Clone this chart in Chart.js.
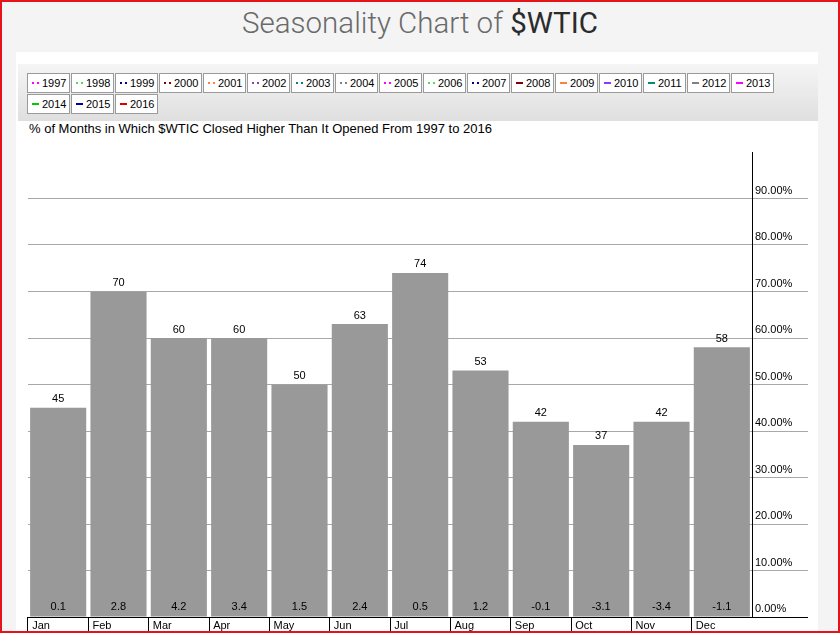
<!DOCTYPE html>
<html>
<head>
<meta charset="utf-8">
<title>Seasonality Chart of $WTIC</title>
<script src="https://cdn.jsdelivr.net/npm/chart.js@4.4.0/dist/chart.umd.min.js"></script>
<style>
    html, body { margin: 0; padding: 0; }
    body { width: 840px; height: 633px; overflow: hidden; font-family: Arial, "Liberation Sans", sans-serif; background: #f4f4f4; }
    #page { position: relative; width: 840px; height: 633px; overflow: hidden; background: #f4f4f4; }
    #header { position: absolute; left: 0; top: 0; width: 840px; height: 52px; background: #f4f4f4;
              text-align: center; font-family: Roboto, sans-serif; font-weight: 300; font-size: 29.5px;
              line-height: 46px; color: #6a6a6a; }
    #header b { font-weight: 400; color: #2b2b2b; }
    #panel { position: absolute; left: 16px; top: 52px; width: 802px; height: 581px; background: #fff; }
    #legendBar { position: absolute; left: 18px; top: 64px; width: 800px; height: 57px;
                 background: linear-gradient(#f5f5f5, #dfdfdf); }
    #legend { position: absolute; left: 27px; top: 73px; width: 760px; }
    .item { float: left; box-sizing: border-box; width: 43px; height: 20px; margin: 0 1px 1px 0;
            border: 1px solid #9a9a9a; background: #fff; font-size: 11px; line-height: 18px; color: #000;
            padding-left: 4px; white-space: nowrap; }
    .mark { display: inline-block; width: 7px; height: 2px; vertical-align: middle; margin: -2px 3px 0 0; }
    #subtitle { position: absolute; left: 29px; top: 121px; font-size: 13px; line-height: 16px; color: #000; }
    #chartCanvas { position: absolute; left: 0; top: 140px; }
    #frame { position: absolute; left: 0; top: 0; width: 840px; height: 633px; box-sizing: border-box;
             border: 2px solid #e3151b; pointer-events: none; }
</style>
</head>
<body>
<div id="page">
    <div id="header">Seasonality Chart of <b>$WTIC</b></div>
    <div id="panel"></div>
    <div id="legendBar"></div>
    <div id="legend"></div>
    <div id="subtitle">% of Months in Which $WTIC Closed Higher Than It Opened From 1997 to 2016</div>
    <canvas id="chartCanvas" width="840" height="493"></canvas>
    <div id="frame"></div>
</div>

<script>
// chart data
var months = ["Jan", "Feb", "Mar", "Apr", "May", "Jun", "Jul", "Aug", "Sep", "Oct", "Nov", "Dec"];
var pctHigher = [45, 70, 60, 60, 50, 63, 74, 53, 42, 37, 42, 58];
var avgChange = [0.1, 2.8, 4.2, 3.4, 1.5, 2.4, 0.5, 1.2, -0.1, -3.1, -3.4, -1.1];

// legend years
var years = ["1997", "1998", "1999", "2000", "2001", "2002", "2003", "2004", "2005", "2006",
             "2007", "2008", "2009", "2010", "2011", "2012", "2013", "2014", "2015", "2016"];
var yearColors = ["#ff00ff", "#55dd55", "#000099", "#800000", "#ff7f3f", "#9933cc", "#008080", "#808080", "#ff00ff", "#55dd55",
                  "#000099", "#800000", "#ff7f3f", "#9933ff", "#008b7b", "#808080", "#ff00ff", "#00cc00", "#000099", "#dd0000"];
var yearDotted = [true, true, true, true, true, true, true, true, true, true,
                  true, false, false, false, false, false, false, false, false, false];

var go = {};

document.addEventListener("DOMContentLoaded", main);

function main() {
    buildLegend();
    drawChart();
}

//legend boxes above the chart
function buildLegend() {
    var legend = document.getElementById("legend");
    for (var i = 0; i < years.length; i++) {
        var item = document.createElement("div");
        item.className = "item";
        var mark = document.createElement("span");
        mark.className = "mark";
        var c = yearColors[i];
        if (yearDotted[i]) {
            // two small dots
            mark.style.background = "linear-gradient(to right, " + c + " 0px, " + c + " 2px, transparent 2px, transparent 5px, " + c + " 5px, " + c + " 7px)";
        } else {
            mark.style.background = c;
        }
        item.appendChild(mark);
        item.appendChild(document.createTextNode(years[i]));
        legend.appendChild(item);
    }
}

//labels on the bars and the long x axis line
var barLabels = {
    id: "barLabels",
    afterDatasetsDraw: function (chart) {
        var ctx = chart.ctx;
        var area = chart.chartArea;
        var meta = chart.getDatasetMeta(0);
        ctx.save();
        ctx.font = "11px Arial";
        ctx.fillStyle = "#000";
        ctx.textAlign = "center";
        for (var i = 0; i < meta.data.length; i++) {
            var bar = meta.data[i];
            ctx.textBaseline = "bottom";
            ctx.fillText(String(pctHigher[i]), bar.x, bar.y - 3);
            ctx.textBaseline = "middle";
            ctx.fillText(avgChange[i].toFixed(1), bar.x, area.bottom - 10);
        }
        // black base line runs under the y labels too
        ctx.strokeStyle = "#000";
        ctx.lineWidth = 1;
        ctx.beginPath();
        ctx.moveTo(area.left, area.bottom + 0.5);
        ctx.lineTo(area.right + 56, area.bottom + 0.5);
        ctx.stroke();
        ctx.restore();
    }
};

function drawChart() {
    Chart.defaults.font.family = "Arial";
    Chart.defaults.font.size = 11;
    Chart.defaults.color = "#000";

    var config = {
        type: "bar",
        data: {
            labels: months,
            datasets: [{
                data: pctHigher,
                backgroundColor: "#999999",
                borderWidth: 0,
                barPercentage: 0.93,
                categoryPercentage: 1.0
            }]
        },
        options: {
            responsive: false,
            animation: false,
            layout: { padding: { left: 28, right: 32, top: 12, bottom: 0 } },
            plugins: {
                legend: { display: false },
                tooltip: { enabled: false }
            },
            scales: {
                x: {
                    grid: {
                        offset: true,
                        drawOnChartArea: false,
                        drawTicks: true,
                        tickLength: 16,
                        // no separator after the last month
                        tickColor: function (c) { return c.type === "tick" ? "#000" : "rgba(0,0,0,0)"; }
                    },
                    border: { display: false },
                    ticks: {
                        align: "start",
                        labelOffset: -26,
                        padding: -14,
                        maxRotation: 0,
                        autoSkip: false,
                        font: { size: 11 }
                    },
                    afterFit: function (scale) { scale.height = 16; }
                },
                y: {
                    position: "right",
                    min: 0,
                    max: 100,
                    grid: {
                        color: "#a8a8a8",
                        tickColor: "#a8a8a8",
                        drawTicks: true,
                        tickLength: 56
                    },
                    border: { display: true, color: "#000", width: 1 },
                    ticks: {
                        stepSize: 10,
                        padding: -53,
                        labelOffset: -8,
                        font: { size: 11 },
                        callback: function (v) { return v.toFixed(2) + "%"; }
                    },
                    afterBuildTicks: function (axis) {
                        axis.ticks = axis.ticks.filter(function (t) { return t.value < 100; });
                    },
                    afterFit: function (scale) { scale.width = 56; }
                }
            }
        },
        plugins: [barLabels]
    };

    var context = document.getElementById("chartCanvas").getContext("2d");
    go.chart = new Chart(context, config);
}
</script>
</body>
</html>
